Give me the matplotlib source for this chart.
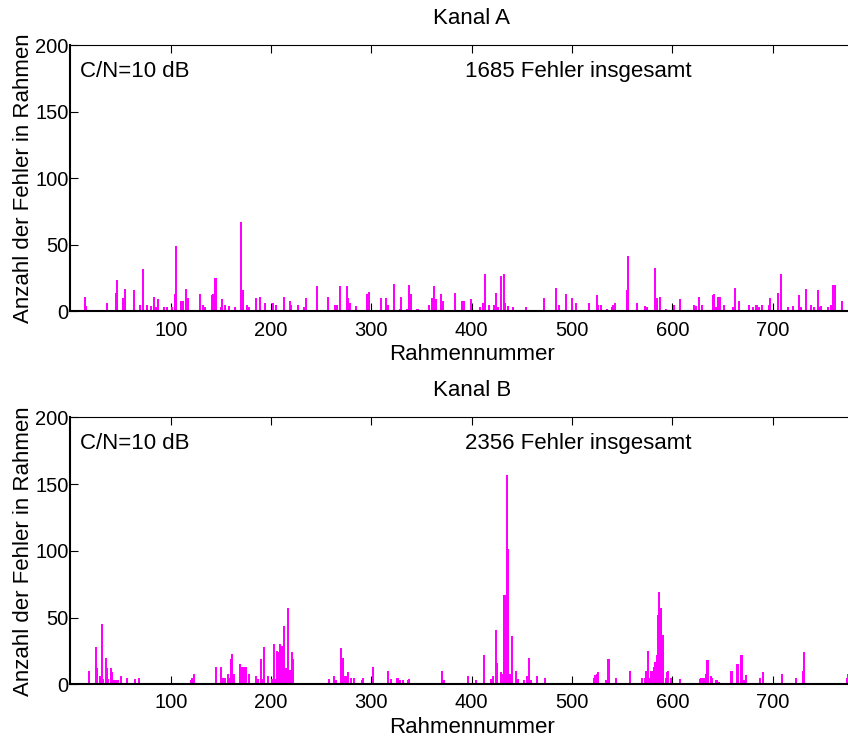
import matplotlib
matplotlib.use('Agg')
import matplotlib.pyplot as plt

plt.rcParams['font.family'] = ['Liberation Sans', 'DejaVu Sans']

# ---- Kanal A (frame number, errors per frame) ----
frames_a = [14, 15, 36, 45, 46, 52, 54, 63, 69, 72,
            76, 80, 83, 85, 87, 93, 96, 101, 104, 105,
            110, 111, 112, 115, 117, 129, 132, 134, 141, 142,
            144, 145, 150, 151, 154, 158, 164, 170, 172, 176,
            178, 185, 189, 194, 202, 205, 213, 219, 220, 227,
            233, 235, 246, 257, 264, 266, 269, 271, 276, 277,
            279, 285, 296, 298, 310, 312, 315, 317, 323, 329,
            330, 336, 338, 340, 346, 357, 360, 362, 364, 369,
            371, 383, 390, 392, 397, 399, 408, 411, 413, 417,
            422, 423, 424, 426, 429, 432, 433, 436, 441, 454,
            472, 484, 487, 494, 500, 504, 517, 525, 526, 529,
            535, 540, 541, 543, 555, 556, 565, 573, 575, 583,
            585, 588, 594, 602, 604, 608, 622, 624, 627, 630,
            641, 642, 644, 646, 648, 652, 661, 663, 667, 677,
            681, 684, 686, 689, 696, 697, 705, 708, 714, 715,
            720, 726, 728, 733, 738, 741, 745, 746, 748, 755,
            758, 760, 762, 769]
errors_a = [11, 4, 6, 14, 24, 10, 17, 16, 5, 32,
            5, 4, 11, 3, 9, 3, 3, 3, 13, 49,
            8, 8, 8, 17, 10, 13, 5, 3, 12, 13,
            25, 25, 3, 9, 5, 4, 3, 67, 16, 5,
            3, 10, 11, 6, 6, 5, 11, 8, 5, 5,
            3, 10, 19, 11, 5, 5, 19, 1, 19, 10,
            6, 4, 13, 15, 10, 1, 10, 5, 21, 2,
            11, 2, 20, 13, 2, 5, 10, 19, 9, 13,
            8, 14, 8, 8, 1, 9, 3, 6, 28, 5,
            5, 4, 14, 3, 27, 28, 6, 4, 3, 3,
            10, 18, 5, 13, 10, 6, 6, 12, 5, 5,
            2, 3, 5, 6, 16, 42, 6, 4, 3, 33,
            10, 11, 2, 5, 1, 9, 5, 4, 11, 5,
            12, 13, 3, 11, 11, 5, 3, 18, 8, 5,
            3, 5, 3, 5, 5, 10, 14, 28, 1, 3,
            4, 12, 3, 17, 5, 3, 16, 3, 4, 3,
            5, 20, 20, 8]

# ---- Kanal B ----
frames_b = [18, 25, 26, 29, 31, 32, 35, 36, 37, 40,
            41, 43, 45, 47, 50, 56, 64, 68, 117, 120,
            121, 123, 145, 150, 152, 154, 157, 158, 160, 161,
            163, 169, 171, 173, 175, 178, 185, 187, 190, 191,
            193, 197, 201, 203, 204, 206, 207, 209, 211, 213,
            215, 217, 219, 221, 222, 253, 258, 263, 265, 270,
            272, 274, 276, 277, 280, 283, 291, 292, 302, 317,
            320, 326, 327, 329, 332, 337, 338, 370, 372, 396,
            404, 412, 419, 421, 424, 425, 429, 430, 432, 433,
            435, 436, 438, 440, 441, 444, 446, 452, 455, 457,
            459, 465, 473, 522, 523, 525, 526, 534, 536, 537,
            544, 558, 570, 573, 574, 576, 577, 579, 580, 582,
            583, 584, 585, 586, 587, 588, 589, 590, 591, 594,
            595, 596, 599, 608, 627, 628, 629, 631, 633, 634,
            635, 636, 639, 640, 644, 645, 647, 659, 660, 665,
            666, 669, 670, 672, 674, 676, 687, 689, 690, 709,
            723, 730, 731, 774, 775]
errors_b = [10, 28, 12, 6, 45, 4, 20, 12, 4, 12,
            9, 3, 3, 3, 6, 5, 4, 5, 1, 3,
            5, 8, 13, 13, 5, 5, 8, 5, 19, 23,
            8, 15, 13, 13, 13, 8, 6, 4, 19, 4,
            28, 6, 4, 30, 4, 25, 24, 30, 29, 44,
            12, 57, 11, 24, 19, 1, 4, 6, 3, 27,
            20, 6, 6, 9, 5, 5, 3, 5, 13, 10,
            4, 5, 5, 3, 3, 3, 4, 10, 3, 6,
            3, 22, 4, 6, 41, 16, 9, 8, 67, 67,
            157, 101, 8, 36, 1, 10, 4, 3, 6, 20,
            3, 6, 5, 5, 7, 8, 9, 3, 19, 19,
            5, 10, 5, 5, 10, 25, 5, 10, 10, 13,
            17, 10, 22, 52, 69, 25, 57, 5, 37, 5,
            9, 10, 5, 4, 1, 4, 5, 5, 5, 8,
            18, 18, 6, 5, 3, 3, 2, 10, 10, 15,
            15, 22, 22, 3, 7, 1, 5, 1, 9, 8,
            5, 10, 24, 5, 8]

titles = ['Kanal A', 'Kanal B']
totals = [1685, 2356]
cn_label = 'C/N=10 dB'
x_ticks = [100, 200, 300, 400, 500, 600, 700]
y_ticks = [0, 50, 100, 150, 200]

fig = plt.figure(figsize=(8.48, 7.39), dpi=100)
ax1 = fig.add_axes([0.0831, 0.5785, 0.9462, 0.3606])
ax2 = fig.add_axes([0.0831, 0.0740, 0.9462, 0.3613])

for ax, fr, er, title, total in [(ax1, frames_a, errors_a, titles[0], totals[0]),
                                 (ax2, frames_b, errors_b, titles[1], totals[1])]:
    ax.bar(fr, er, width=2.0, color='#ff00ff', linewidth=0, zorder=2)
    ax.set_xlim(0, 800)
    ax.set_ylim(0, 200)
    ax.set_xticks(x_ticks)
    ax.set_yticks(y_ticks)
    ax.tick_params(axis='both', direction='in', top=True, right=True,
                   length=5.8, width=0.8, labelsize=14.5, colors='black')
    ax.tick_params(axis='x', pad=6.5)
    ax.tick_params(axis='y', pad=1.5)
    for s in ['top', 'right']:
        ax.spines[s].set_linewidth(0.8)
    ax.spines['left'].set_linewidth(1.5)
    ax.spines['bottom'].set_linewidth(1.5)
    ax.set_xlabel('Rahmennummer', fontsize=16, labelpad=3)
    ax.set_ylabel('Anzahl der Fehler in Rahmen', fontsize=16)
    ax.yaxis.set_label_coords(-0.0455, 0.5)
    ax.set_title(title, fontsize=16, pad=15)
    ax.text(10, 176, cn_label, fontsize=16, va='baseline', ha='left')
    ax.text(393, 176, f'{total} Fehler insgesamt', fontsize=16, va='baseline', ha='left')

fig.savefig('out.png', dpi=100)
